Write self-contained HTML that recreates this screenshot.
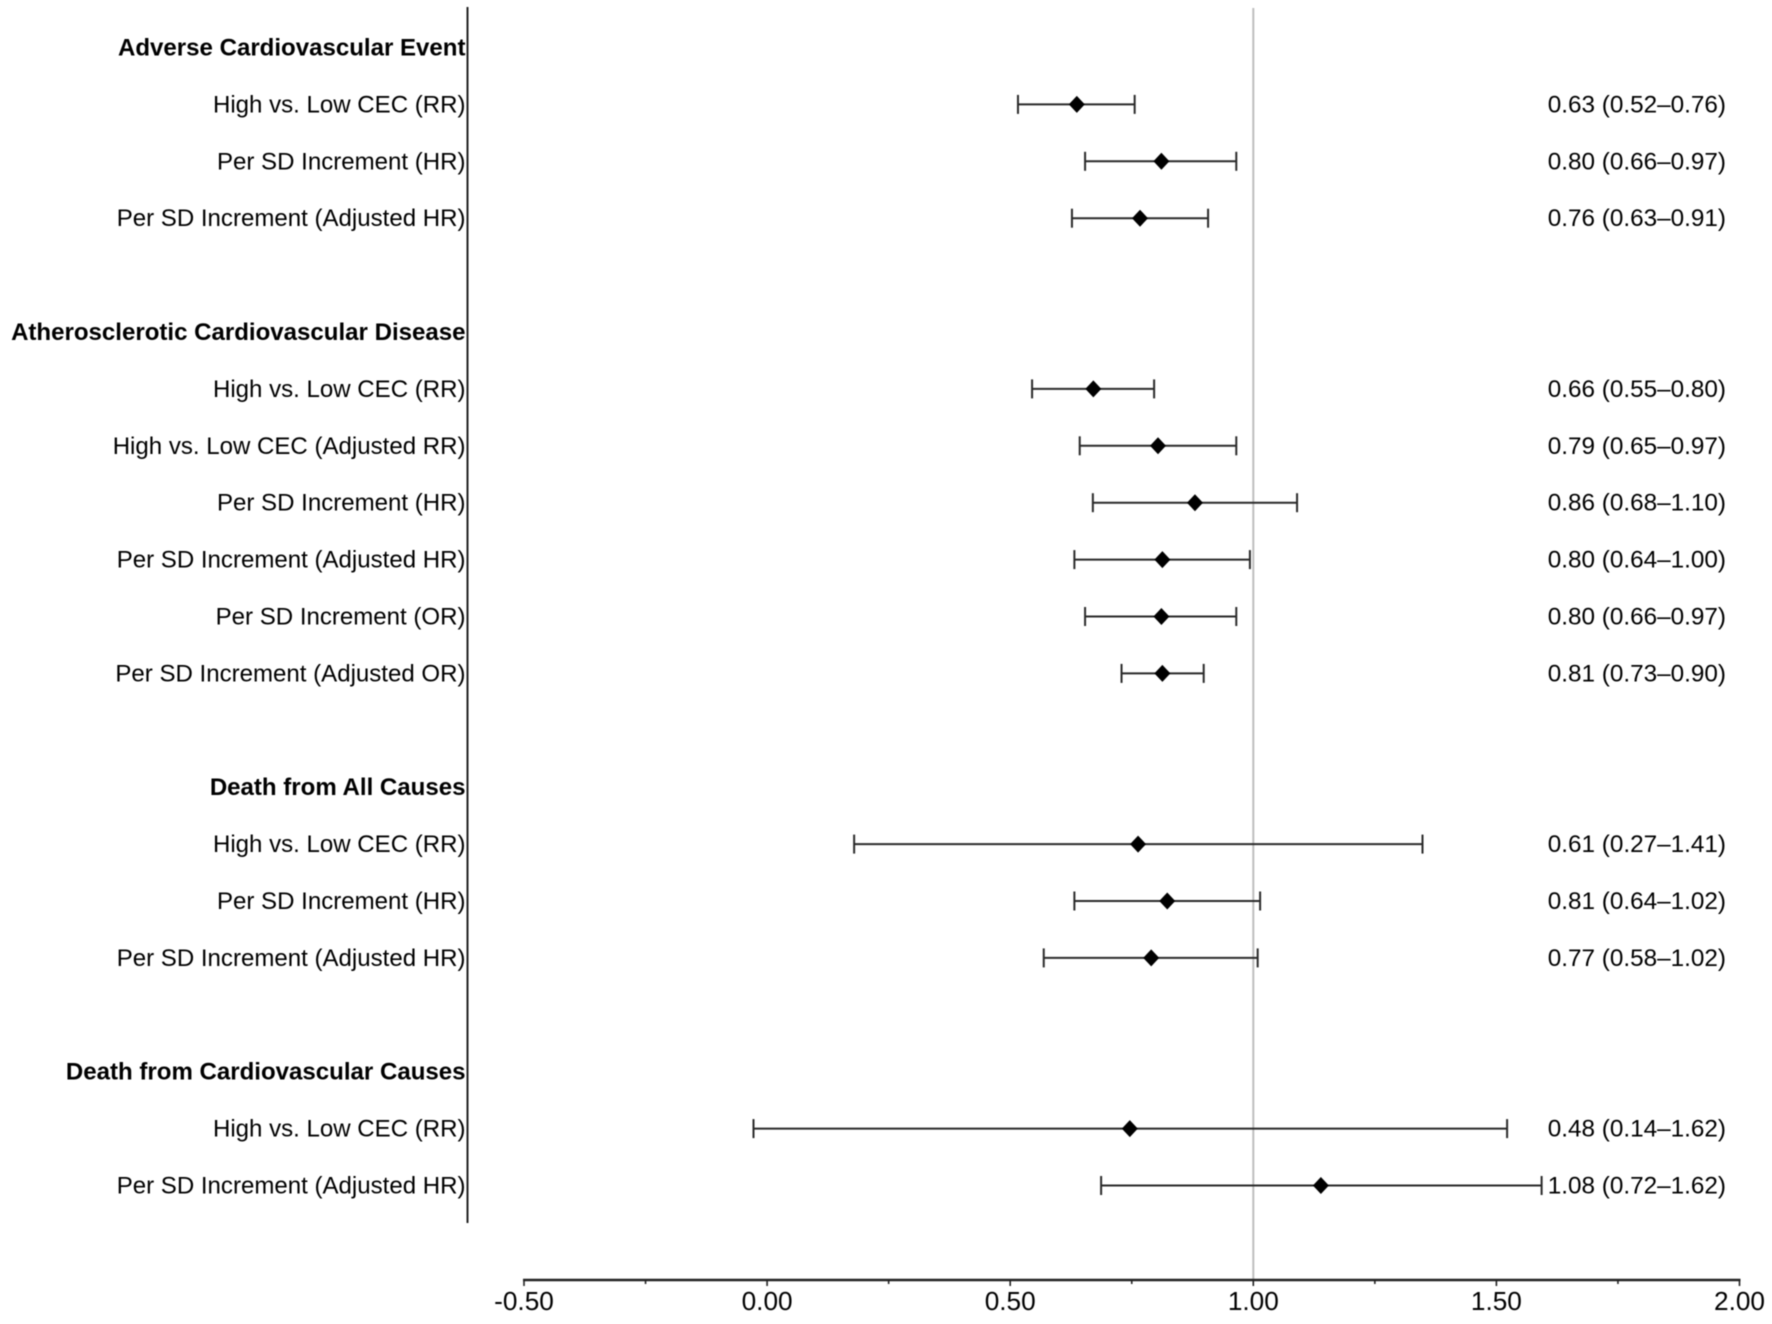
<!DOCTYPE html>
<html>
<head>
<meta charset="utf-8">
<title>Forest plot</title>
<style>
html,body{margin:0;padding:0;background:#fff;width:1772px;height:1324px;overflow:hidden}
svg{display:block;filter:blur(0.55px)}
text{font-family:"Liberation Sans",sans-serif;font-size:24.05px;fill:#000}
</style>
</head>
<body>
<svg id="chart" width="1772" height="1324" viewBox="0 0 1772 1324" xmlns="http://www.w3.org/2000/svg">
<rect width="1772" height="1324" fill="#ffffff"/>
</svg>
<script>
const rowLabels = ["Adverse Cardiovascular Event","High vs. Low CEC (RR)","Per SD Increment (HR)","Per SD Increment (Adjusted HR)","",
"Atherosclerotic Cardiovascular Disease","High vs. Low CEC (RR)","High vs. Low CEC (Adjusted RR)","Per SD Increment (HR)","Per SD Increment (Adjusted HR)","Per SD Increment (OR)","Per SD Increment (Adjusted OR)","",
"Death from All Causes","High vs. Low CEC (RR)","Per SD Increment (HR)","Per SD Increment (Adjusted HR)","",
"Death from Cardiovascular Causes","High vs. Low CEC (RR)","Per SD Increment (Adjusted HR)"];
const headerRows = [0,5,13,18];
const means = [null,0.637,0.811,0.767,null,null,0.671,0.804,0.88,0.813,0.811,0.813,null,null,0.763,0.823,0.79,null,null,0.746,1.139];
const lows = [null,0.516,0.654,0.627,null,null,0.545,0.643,0.67,0.632,0.654,0.729,null,null,0.179,0.632,0.569,null,null,-0.028,0.687];
const highs = [null,0.756,0.965,0.907,null,null,0.796,0.965,1.09,0.993,0.965,0.898,null,null,1.348,1.014,1.009,null,null,1.522,1.593];
const printedValues = ["","0.63 (0.52–0.76)","0.80 (0.66–0.97)","0.76 (0.63–0.91)","","","0.66 (0.55–0.80)","0.79 (0.65–0.97)","0.86 (0.68–1.10)","0.80 (0.64–1.00)","0.80 (0.66–0.97)","0.81 (0.73–0.90)","","","0.61 (0.27–1.41)","0.81 (0.64–1.02)","0.77 (0.58–1.02)","","","0.48 (0.14–1.62)","1.08 (0.72–1.62)"];
const majorTicks = [-0.5,0,0.5,1,1.5,2];
const minorTicks = [-0.25,0.25,0.75,1.25,1.75];
const tickLabels = ["-0.50","0.00","0.50","1.00","1.50","2.00"];
const referenceValue = 1;

const svg = document.getElementById('chart');
const NS = 'http://www.w3.org/2000/svg';
const xMin = -0.5, xMax = 2, xLeft = 524, xRight = 1739.5;
const rowTop = 47.5, rowStep = 56.9, axisY = 1280;
function xScale(v){ return xLeft + (v - xMin) / (xMax - xMin) * (xRight - xLeft); }
function yScale(i){ return rowTop + i * rowStep; }
function line(x1,y1,x2,y2,stroke,w){
  const el = document.createElementNS(NS,'line');
  el.setAttribute('x1',x1); el.setAttribute('y1',y1);
  el.setAttribute('x2',x2); el.setAttribute('y2',y2);
  el.setAttribute('stroke',stroke); el.setAttribute('stroke-width',w);
  svg.appendChild(el);
  return el;
}
function label(x,y,str,anchor){
  const el = document.createElementNS(NS,'text');
  el.setAttribute('x',x); el.setAttribute('y',y);
  el.setAttribute('text-anchor',anchor);
  el.textContent = str;
  svg.appendChild(el);
  return el;
}

const refLine = line(xScale(referenceValue),8,xScale(referenceValue),axisY,'#bdbdbd',2);



const yAxis = line(467.5,7,467.5,1223,'#222',2);



const xAxis = line(xScale(xMin)-1,axisY,xScale(xMax)+1,axisY,'#222',2.4);



majorTicks.forEach((t,i)=>{
  const tick = line(xScale(t),axisY,xScale(t),axisY+6,'#222',1.6);
  
  
  const lab = label(xScale(t),axisY+30,tickLabels[i],'middle');
  
  
  lab.style.fontSize = '26.2px';
});
minorTicks.forEach(t=>{
  const tick = line(xScale(t),axisY,xScale(t),axisY+4,'#222',1.6);
  
  
});

rowLabels.forEach((name,i)=>{
  if(!name) return;
  const y = yScale(i);
  const rowLabel = label(465.5,y+8,name,'end');
  if(headerRows.includes(i)){
    rowLabel.style.fontWeight = 'bold';
    
  } else {
    
  }
  
  if(means[i]===null) return;
  const ci = line(xScale(lows[i]),y,xScale(highs[i]),y,'#2a2a2a',2);
  
  
  const capLow = line(xScale(lows[i]),y-9.5,xScale(lows[i]),y+9.5,'#2a2a2a',2);
  
  
  const capHigh = line(xScale(highs[i]),y-9.5,xScale(highs[i]),y+9.5,'#2a2a2a',2);
  
  
  const mx = xScale(means[i]);
  const d = document.createElementNS(NS,'polygon');
  d.setAttribute('points',[[mx-8,y],[mx,y-8.5],[mx+8,y],[mx,y+8.5]].map(p=>p.join(',')).join(' '));
  d.setAttribute('fill','#000');
  
  
  svg.appendChild(d);
  const val = label(1726,y+8,printedValues[i],'end');
  
  
  val.style.fontSize = '24.3px';
});
</script>
</body>
</html>
